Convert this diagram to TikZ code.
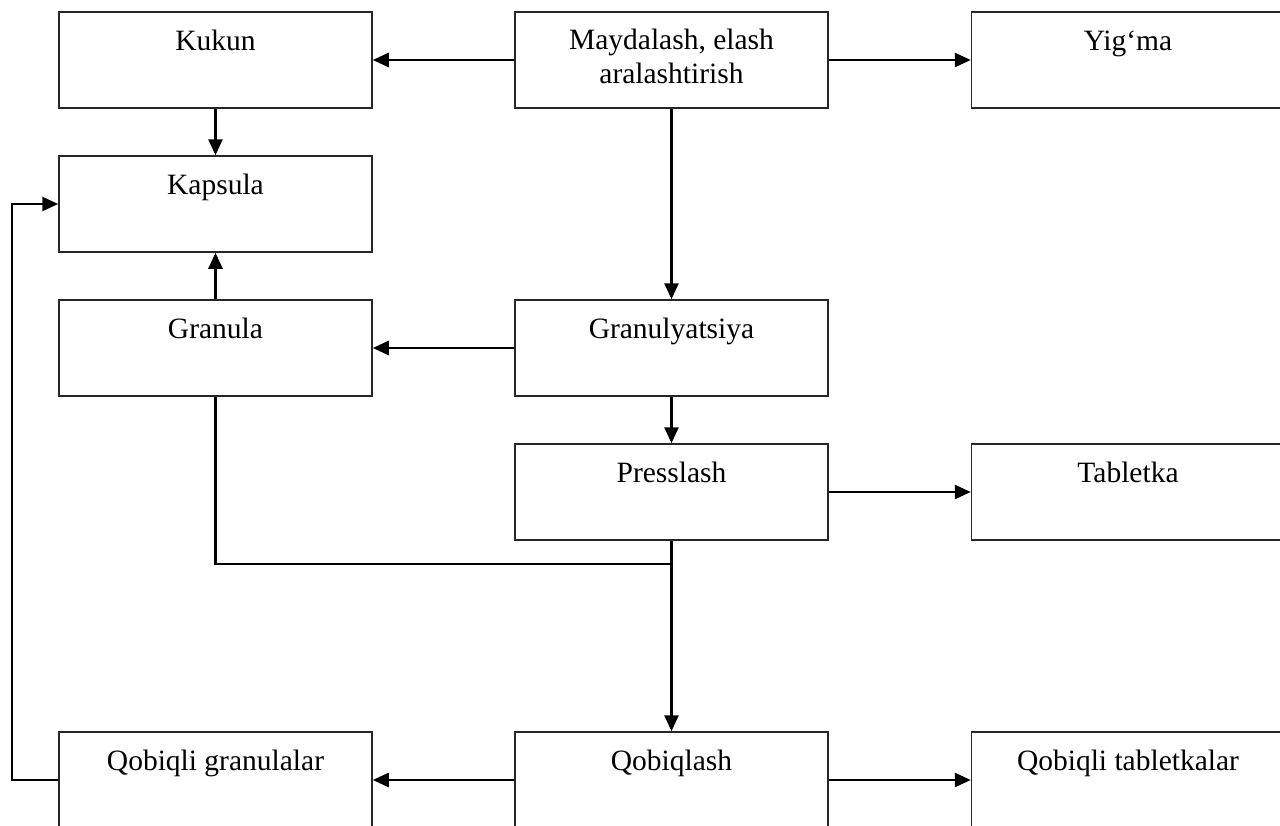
\documentclass[tikz,border=0pt]{standalone}
\usepackage{fontspec}
\setmainfont{Liberation Serif}
\usetikzlibrary{arrows.meta}
\begin{document}
\begin{tikzpicture}[x=1pt,y=-1pt,
  box/.style={draw=black!85, line width=1.5pt, minimum width=313pt, minimum height=96pt, inner sep=0pt},
  txt/.style={anchor=base, align=center, inner sep=0pt, font=\fontsize{29.5}{34}\selectfont},
  conn/.style={line width=2.6pt, draw=black},
  arr/.style={conn, -{Triangle[length=16pt,width=14pt]}}]
\useasboundingbox (0,0) rectangle (1280,825);
\clip (0,0) rectangle (1280,825);
% boxes
\node[box] (kukun) at (215.5,60) {};
\node[box] (mayd) at (671.5,60) {};
\node[box] (yigma) at (1128,60) {};
\node[box] (kapsula) at (215.5,204) {};
\node[box] (granula) at (215.5,348) {};
\node[box] (granul) at (671.5,348) {};
\node[box] (press) at (671.5,492) {};
\node[box] (tab) at (1128,492) {};
\node[box] (qgr) at (215.5,780) {};
\node[box] (qob) at (671.5,780) {};
\node[box] (qtab) at (1128,780) {};
% texts
\node[txt] (tkukun) at ([yshift=-39pt]kukun.north) {Kukun};
\node[txt] (tmayd) at ([yshift=-72pt]mayd.north) {Maydalash, elash\\aralashtirish};
\node[txt] (tyigma) at ([yshift=-39pt]yigma.north) {Yig‘ma};
\node[txt] (tkapsula) at ([yshift=-39pt]kapsula.north) {Kapsula};
\node[txt] (tgranula) at ([yshift=-39pt]granula.north) {Granula};
\node[txt] (tgranul) at ([yshift=-39pt]granul.north) {Granulyatsiya};
\node[txt] (tpress) at ([yshift=-39pt]press.north) {Presslash};
\node[txt] (ttab) at ([yshift=-39pt]tab.north) {Tabletka};
\node[txt] (tqgr) at ([yshift=-39pt]qgr.north) {Qobiqli granulalar};
\node[txt] (tqob) at ([yshift=-39pt]qob.north) {Qobiqlash};
\node[txt] (tqtab) at ([yshift=-39pt]qtab.north) {Qobiqli tabletkalar};
% junction coordinates
\coordinate (j) at (671.5,564);
\coordinate (fb) at (12,780);
% connectors
\draw[arr] (mayd.west) -- (kukun.east);
\draw[arr] (mayd.east) -- (yigma.west);
\draw[arr] (kukun.south) -- (kapsula.north);
\draw[arr] (mayd.south) -- (granul.north);
\draw[arr] (granul.west) -- (granula.east);
\draw[arr] (granula.north) -- (kapsula.south);
\draw[arr] (granul.south) -- (press.north);
\draw[arr] (press.east) -- (tab.west);
\draw[arr] (press.south) -- (qob.north);
\draw[conn] (granula.south) |- (j);
\draw[arr] (qob.west) -- (qgr.east);
\draw[arr] (qob.east) -- (qtab.west);
\draw[arr] (qgr.west) -- (fb) |- (kapsula.west);
\end{tikzpicture}
\end{document}
